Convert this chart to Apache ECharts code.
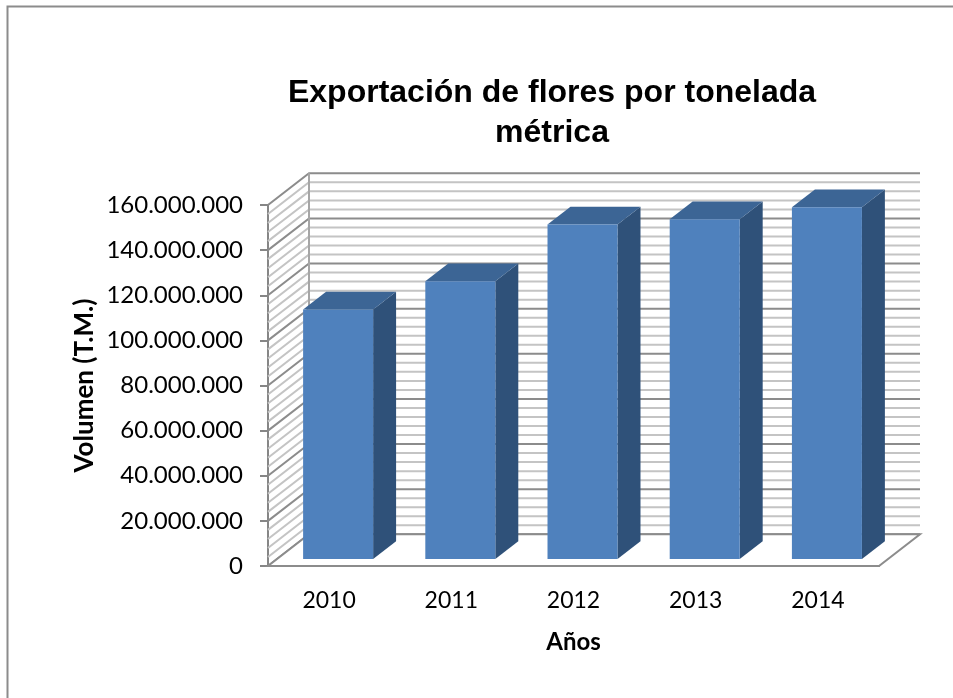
<!DOCTYPE html>
<html>
<head>
<meta charset="utf-8">
<style>html,body{margin:0;padding:0;background:#fff}#c{width:953px;height:698px}</style>
<script src="https://cdn.jsdelivr.net/npm/echarts@6/dist/echarts.min.js"></script>
</head>
<body>
<div id="c"></div>
<script>
var categories = ['2010', '2011', '2012', '2013', '2014'];
var volumes = [110600000, 123100000, 148300000, 150600000, 155900000];
var majorTicks = [0, 20000000, 40000000, 60000000, 80000000, 100000000, 120000000, 140000000, 160000000];
var minorTicks = [4000000, 8000000, 12000000, 16000000, 24000000, 28000000, 32000000, 36000000,
  44000000, 48000000, 52000000, 56000000, 64000000, 68000000, 72000000, 76000000,
  84000000, 88000000, 92000000, 96000000, 104000000, 108000000, 112000000, 116000000,
  124000000, 128000000, 132000000, 136000000, 144000000, 148000000, 152000000, 156000000];
var titleText = 'Exportación de flores por tonelada\nmétrica';
var yAxisName = 'Volumen (T.M.)';
var xAxisName = 'Años';

var DX = 41, DY = 31.7;          // full depth of the 3D box
var BAR_Z0 = 0.22, BAR_Z1 = 0.78; // depth span of bars inside the box
var BAR_RATIO = 0.573;

function wallLine(params, api, color, width) {
  var cs = params.coordSys;
  var y = api.coord([0, api.value(1)])[1];
  var x0 = cs.x, x1 = cs.x + DX, x2 = cs.x + cs.width + DX;
  return {
    type: 'polyline',
    shape: { points: [[x0, y], [x1, y - DY], [x2, y - DY]] },
    style: { stroke: color, lineWidth: width, fill: null },
    silent: true
  };
}

var chart = echarts.init(document.getElementById('c'), null, { renderer: 'canvas' });
chart.setOption({
  animation: false,
  backgroundColor: '#ffffff',
  title: {
    text: titleText,
    left: 547, top: 68, textAlign: 'center',
    textStyle: { fontFamily: 'Liberation Sans', fontWeight: 'bold', fontSize: 32, lineHeight: 40, color: '#000' }
  },
  grid: { left: 268, right: 74, top: 205, bottom: 132, containLabel: false },
  xAxis: {
    type: 'category',
    data: categories,
    name: xAxisName,
    nameLocation: 'middle',
    nameGap: 64,
    nameTextStyle: { fontFamily: 'Lato', fontWeight: 'bold', fontSize: 24, color: '#000' },
    axisLine: { lineStyle: { color: '#868686', width: 2 } },
    axisTick: { show: false },
    axisLabel: { fontFamily: 'Lato', fontSize: 23, color: '#000', margin: 23 }
  },
  yAxis: {
    type: 'value',
    min: 0, max: 160000000, interval: 20000000,
    name: yAxisName,
    nameLocation: 'middle',
    nameGap: 170,
    nameMoveOverlap: false,
    nameRotate: 90,
    nameTextStyle: { fontFamily: 'Lato', fontWeight: 'bold', fontSize: 26, color: '#000' },
    axisLine: { show: true, lineStyle: { color: '#868686', width: 2 } },
    axisTick: { show: true, length: 8, lineStyle: { color: '#868686', width: 2 } },
    splitLine: { show: false },
    axisLabel: {
      fontFamily: 'Lato', fontSize: 24, color: '#000', margin: 25,
      formatter: function (v) { return String(v).replace(/\B(?=(\d{3})+(?!\d))/g, '.'); }
    }
  },
  graphic: [
    { type: 'polyline', silent: true, shape: { points: [[7.5, 698], [7.5, 6.5], [953, 6.5]] },
      style: { stroke: '#8c8c8c', lineWidth: 2, fill: null } }
  ],
  series: [
    {
      type: 'custom', coordinateSystem: 'cartesian2d', silent: true, clip: false, z: 1,
      data: minorTicks.map(function (v) { return [0, v]; }),
      encode: { x: 0, y: 1 },
      renderItem: function (params, api) { return wallLine(params, api, '#c4c4c4', 2); }
    },
    {
      type: 'custom', coordinateSystem: 'cartesian2d', silent: true, clip: false, z: 2,
      data: majorTicks.map(function (v) { return [0, v]; }),
      encode: { x: 0, y: 1 },
      renderItem: function (params, api) { return wallLine(params, api, '#8c8c8c', 2); }
    },
    {
      type: 'custom', coordinateSystem: 'cartesian2d', silent: true, clip: false, z: 3,
      data: [[0, 0]],
      encode: { x: 0, y: 1 },
      renderItem: function (params, api) {
        var cs = params.coordSys, y = api.coord([0, 0])[1], top = api.coord([0, 160000000])[1];
        var x0 = cs.x, x1 = cs.x + cs.width;
        return {
          type: 'group',
          children: [
            { type: 'polygon', shape: { points: [[x0, y], [x1, y], [x1 + DX, y - DY], [x0 + DX, y - DY]] },
              style: { fill: '#fff', stroke: '#8c8c8c', lineWidth: 2 } },
            { type: 'line', shape: { x1: x0 + DX, y1: top - DY, x2: x0 + DX, y2: y - DY },
              style: { stroke: '#a6a6a6', lineWidth: 2 } }
          ]
        };
      }
    },
    {
      type: 'custom', coordinateSystem: 'cartesian2d', silent: true, clip: false, z: 4,
      data: volumes.map(function (v, i) { return [i, v]; }),
      encode: { x: 0, y: 1 },
      renderItem: function (params, api) {
        var i = api.value(0), v = api.value(1);
        var c = api.coord([i, 0]), t = api.coord([i, v]);
        var w = api.size([1, 0])[0] * BAR_RATIO;
        var ox = DX * BAR_Z0, oy = DY * BAR_Z0;
        var dx = DX * (BAR_Z1 - BAR_Z0), dy = DY * (BAR_Z1 - BAR_Z0);
        var l = c[0] - w / 2 + ox, r = c[0] + w / 2 + ox;
        var b = c[1] - oy, u = t[1] - oy;
        return {
          type: 'group',
          children: [
            { type: 'polygon', shape: { points: [[r, b], [r + dx, b - dy], [r + dx, u - dy], [r, u]] },
              style: { fill: '#2f5179' } },
            { type: 'polygon', shape: { points: [[l, u], [r, u], [r + dx, u - dy], [l + dx, u - dy]] },
              style: { fill: '#3c6595' } },
            { type: 'rect', shape: { x: l, y: u, width: w, height: b - u },
              style: { fill: '#4f81bd' } }
          ]
        };
      }
    }
  ]
});
</script>
</body>
</html>
